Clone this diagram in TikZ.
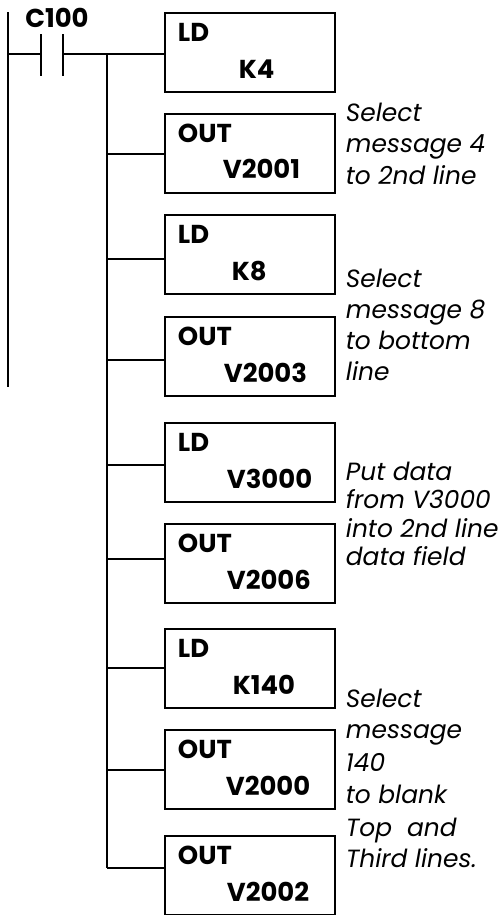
\documentclass[tikz,border=0pt]{standalone}
\usepackage{fontspec}
\setmainfont{Poppins}
\begin{document}
\begin{tikzpicture}[x=1bp,y=-1bp,line width=1.8bp,
  lad/.style={draw,line width=1.6bp,minimum width=170bp,minimum height=79bp,anchor=north west,inner sep=0pt},
  op/.style={font=\fontsize{26}{26}\selectfont\bfseries,anchor=base west,inner sep=0pt},
  note/.style={font=\fontsize{25}{25}\selectfont\itshape,anchor=base west,inner sep=0pt}]
\useasboundingbox (0,0) rectangle (502,915);
% rail and contact
\coordinate (railtop) at (8,12);
\coordinate (railbot) at (8,387);
\coordinate (rl) at (8,54);
\coordinate (cl) at (41,54);
\coordinate (cr) at (63,54);
\draw (railtop) -- (railbot);
\draw (rl) -- (cl);
\draw ([yshift=20bp]cl) -- ([yshift=-22bp]cl);
\draw ([yshift=20bp]cr) -- ([yshift=-22bp]cr);
\node[op,anchor=base] (c100) at (57,27) {C100};
% boxes
\node[lad] (b1) at (164,12) {};
\node[lad] (b2) at (164,113) {};
\node[lad] (b3) at (164,214) {};
\node[lad] (b4) at (164,316) {};
\node[lad] (b5) at (164,422) {};
\node[lad] (b6) at (164,523) {};
\node[lad] (b7) at (164,628) {};
\node[lad] (b8) at (164,729) {};
\node[lad] (b9) at (164,835) {};
% bus junctions
\coordinate (j1) at (107,54);
\coordinate (j2) at (107,154);
\coordinate (j3) at (107,259);
\coordinate (j4) at (107,360);
\coordinate (j5) at (107,465);
\coordinate (j6) at (107,559);
\coordinate (j7) at (107,668);
\coordinate (j8) at (107,770);
\coordinate (j9) at (107,868);
\draw (cr) -- (cr -| b1.west);
\draw (j1) -- (j9);
\foreach \i in {2,...,9} {\draw (j\i) -- (j\i -| b\i.west);}
% box texts
\node[op] (t1) at (177,41) {LD};
\node[op] (v1) at (238,78) {K4};
\node[op] (t2) at (177,142) {OUT};
\node[op] (v2) at (222,178) {V2001};
\node[op] (t3) at (177,243) {LD};
\node[op] (v3) at (231,280) {K8};
\node[op] (t4) at (177,345) {OUT};
\node[op] (v4) at (223,382) {V2003};
\node[op] (t5) at (177,451) {LD};
\node[op] (v5) at (226,488) {V3000};
\node[op] (t6) at (177,552) {OUT};
\node[op] (v6) at (226,589) {V2006};
\node[op] (t7) at (177,657) {LD};
\node[op] (v7) at (232,694) {K140};
\node[op] (t8) at (177,758) {OUT};
\node[op] (v8) at (225,795) {V2000};
\node[op] (t9) at (177,864) {OUT};
\node[op] (v9) at (226,901) {V2002};
% notes
\node[note] (n1a) at (345,121) {Select};
\node[note] (n1b) at (345,152) {message 4};
\node[note] (n1c) at (345,184) {to 2nd line};
\node[note] (n2a) at (345,287) {Select};
\node[note] (n2b) at (345,318) {message 8};
\node[note] (n2c) at (345,349) {to bottom};
\node[note] (n2d) at (345,380) {line};
\node[note] (n3a) at (345,480) {Put data};
\node[note] (n3b) at (345,508) {from V3000};
\node[note] (n3c) at (345,537) {into 2nd line};
\node[note] (n3d) at (345,565) {data field};
\node[note] (n4a) at (345,707) {Select};
\node[note] (n4b) at (345,738) {message};
\node[note] (n4c) at (345,771) {140};
\node[note] (n4d) at (345,803) {to blank};
\node[note] (n4e) at (345,836) {Top\ \ and};
\node[note] (n4f) at (345,867) {Third lines.};
\end{tikzpicture}
\end{document}
